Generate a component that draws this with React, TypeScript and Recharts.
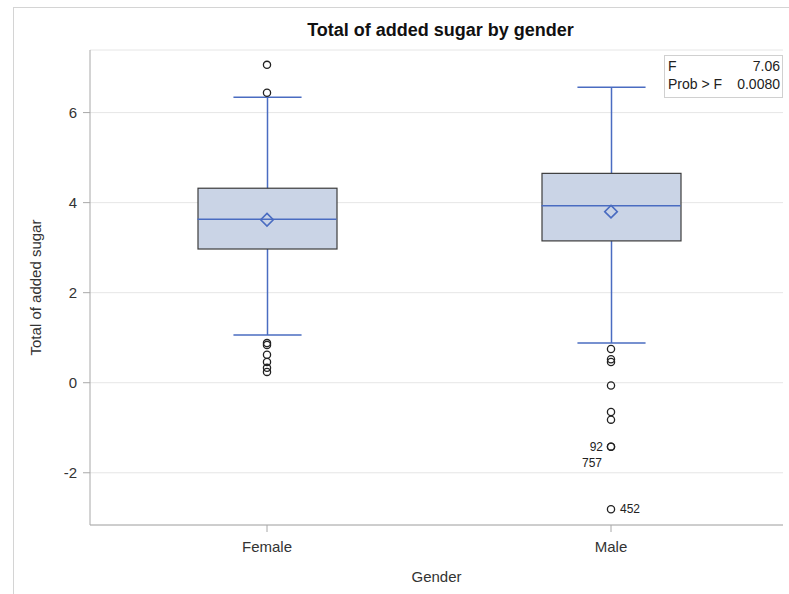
import React from "react";
import { ComposedChart, Bar, Scatter, XAxis, YAxis, CartesianGrid, Label } from "recharts";

// box plot summary per gender
const categories = ["Female", "Male"];
const whiskerLow = [1.06, 0.88];
const q1 = [2.97, 3.15];
const median = [3.63, 3.93];
const q3 = [4.32, 4.65];
const whiskerHigh = [6.34, 6.56];
const means = [3.62, 3.8];

const femaleOutliers = [7.06, 6.44, 0.88, 0.84, 0.62, 0.46, 0.33, 0.24];
const maleOutliers = [0.75, 0.52, 0.46, -0.06, -0.65, -0.82, -1.42, -1.42, -2.81];
const maleOutlierIds = ["", "", "", "", "", "", "92", "757", "452"];

const yTicks = [-2, 0, 2, 4, 6];
const yDomain = [-3.16, 7.39];

const fValue = "7.06";
const probF = "0.0080";

const BLUE = "#4a6cc1";
const BOX_W = 139;
const FONT = "'Liberation Sans', Arial, sans-serif";

// where the observation ids sit next to their point
const idPlacement: Record<string, { dx: number; dy: number; anchor: string }> = {
  "92": { dx: -8, dy: 4, anchor: "end" },
  "757": { dx: -9, dy: 20, anchor: "end" },
  "452": { dx: 9, dy: 4, anchor: "start" },
};

const rows = categories.map((g, i) => ({
  gender: g,
  whisker: [whiskerLow[i], whiskerHigh[i]],
  box: [q1[i], q3[i]],
}));
const medianPts = categories.map((g, i) => ({ gender: g, y: median[i] }));
const meanPts = categories.map((g, i) => ({ gender: g, y: means[i] }));
const outlierPts = [
  ...femaleOutliers.map((v) => ({ gender: "Female", y: v, id: "" })),
  ...maleOutliers.map((v, i) => ({ gender: "Male", y: v, id: maleOutlierIds[i] })),
];

const WhiskerShape = (p: any) => {
  const top = Math.min(p.y, p.y + p.height);
  const bot = Math.max(p.y, p.y + p.height);
  const cx = p.x + p.width / 2;
  const cap = p.width * 0.245;
  return (
    <g stroke={BLUE} strokeWidth={1.5}>
      <line x1={cx} x2={cx} y1={top} y2={bot} />
      <line x1={cx - cap} x2={cx + cap} y1={top} y2={top} />
      <line x1={cx - cap} x2={cx + cap} y1={bot} y2={bot} />
    </g>
  );
};

const BoxShape = (p: any) => {
  const top = Math.min(p.y, p.y + p.height);
  return <rect x={p.x} y={top} width={p.width} height={Math.abs(p.height)} fill="#cad4e6" stroke="#3c3c3c" strokeWidth={1.2} />;
};

const MedianShape = (p: any) => (
  <line x1={p.cx - BOX_W / 2} x2={p.cx + BOX_W / 2} y1={p.cy} y2={p.cy} stroke={BLUE} strokeWidth={1.5} />
);

const MeanShape = (p: any) => {
  const r = 6.3;
  return (
    <polygon
      points={`${p.cx},${p.cy - r} ${p.cx + r},${p.cy} ${p.cx},${p.cy + r} ${p.cx - r},${p.cy}`}
      fill="none"
      stroke={BLUE}
      strokeWidth={1.6}
    />
  );
};

const OutlierShape = (p: any) => {
  const id = p.payload?.id;
  const pl = id ? idPlacement[id] : null;
  return (
    <g>
      <circle cx={p.cx} cy={p.cy} r={3.6} fill="none" stroke="#222" strokeWidth={1.3} />
      {pl && (
        <text x={p.cx + pl.dx} y={p.cy + pl.dy} textAnchor={pl.anchor} fontSize={12} fill="#222" fontFamily={FONT}>
          {id}
        </text>
      )}
    </g>
  );
};

export default function App() {
  const axisTick = { fill: "#333", fontSize: 15, fontFamily: FONT };
  return (
    <div style={{ position: "absolute", left: 0, top: 0, width: 789, height: 594, overflow: "hidden", background: "#fff", fontFamily: FONT }}>
      <div style={{ position: "absolute", left: 13, top: 7, width: 800, height: 600, border: "1px solid #d4d4d4" }} />
      <div style={{ position: "absolute", left: 94, width: 693, top: 20, textAlign: "center", fontSize: 18, fontWeight: "bold", color: "#111" }}>
        Total of added sugar by gender
      </div>
      <div style={{ position: "absolute" }}>
        <ComposedChart width={789} height={594} data={rows} margin={{ top: 50, right: 6, bottom: 0, left: 0 }}>
          <CartesianGrid horizontal vertical={false} stroke="#e6e6e6" />
          <XAxis
            dataKey="gender"
            type="category"
            allowDuplicatedCategory={false}
            padding={{ left: 5, right: 0 }}
            height={69}
            stroke="#a8a8a8"
            tickSize={7}
            tickMargin={9}
            tick={axisTick}
          >
            <Label value="Gender" position="insideBottom" offset={12} style={{ fill: "#333", fontSize: 15, fontFamily: FONT }} />
          </XAxis>
          <XAxis
            xAxisId="w"
            dataKey="gender"
            type="category"
            orientation="top"
            padding={{ left: 5, right: 0 }}
            height={0}
            tick={false}
            tickLine={false}
            stroke="#a8a8a8"
          />
          <YAxis
            dataKey="y"
            type="number"
            domain={yDomain}
            ticks={yTicks}
            allowDataOverflow
            width={90}
            stroke="#a8a8a8"
            tickSize={7}
            tickMargin={6}
            tick={axisTick}
          >
            <Label
              value="Total of added sugar"
              angle={-90}
              position="insideLeft"
              offset={36}
              style={{ textAnchor: "middle", fill: "#333", fontSize: 15, fontFamily: FONT }}
            />
          </YAxis>
          <YAxis yAxisId="r" orientation="right" type="number" domain={yDomain} allowDataOverflow width={0} tick={false} tickLine={false} stroke="#a8a8a8" />
          <Bar xAxisId="w" dataKey="whisker" barSize={BOX_W} shape={WhiskerShape} isAnimationActive={false} />
          <Bar dataKey="box" barSize={BOX_W} shape={BoxShape} isAnimationActive={false} />
          <Scatter data={medianPts} dataKey="y" shape={MedianShape} isAnimationActive={false} />
          <Scatter data={meanPts} dataKey="y" shape={MeanShape} isAnimationActive={false} />
          <Scatter data={outlierPts} dataKey="y" shape={OutlierShape} isAnimationActive={false} />
        </ComposedChart>
      </div>
      <div
        style={{
          position: "absolute",
          left: 664,
          top: 55,
          width: 119,
          height: 43,
          border: "1px solid #d0d0d0",
          fontSize: 14,
          color: "#222",
          lineHeight: "18px",
          padding: "1px 2px 0 3px",
          boxSizing: "border-box",
        }}
      >
        <div style={{ display: "flex", justifyContent: "space-between" }}>
          <span>F</span>
          <span>{fValue}</span>
        </div>
        <div style={{ display: "flex", justifyContent: "space-between" }}>
          <span>Prob &gt; F</span>
          <span>{probF}</span>
        </div>
      </div>
    </div>
  );
}
